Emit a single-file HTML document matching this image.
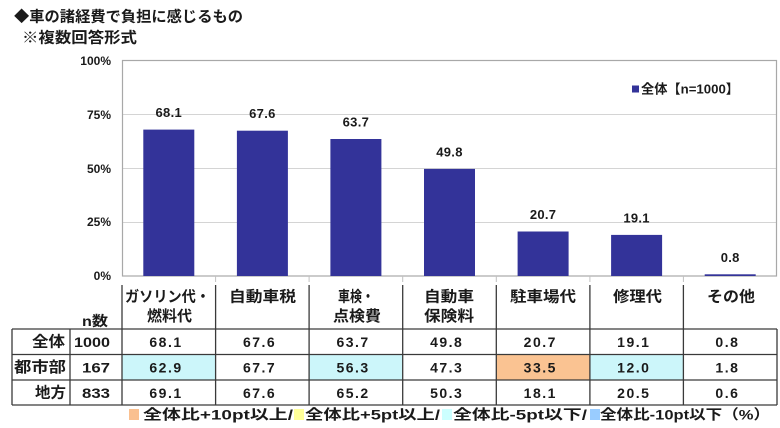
<!DOCTYPE html>
<html><head><meta charset="utf-8"><style>
html,body{margin:0;padding:0;background:#fff;}
svg{display:block;}
text{font-family:"Liberation Sans","Noto Sans CJK JP",sans-serif;font-weight:bold;fill:#1a1a1a;}
</style></head><body>
<svg width="780" height="428" viewBox="0 0 780 428" xmlns="http://www.w3.org/2000/svg">
<!-- Titles -->
<text x="14" y="17" font-size="15" dominant-baseline="central" textLength="229" lengthAdjust="spacingAndGlyphs">◆車の諸経費で負担に感じるもの</text>
<text x="22" y="38" font-size="15" dominant-baseline="central" textLength="115" lengthAdjust="spacingAndGlyphs">※複数回答形式</text>

<!-- gridlines -->
<g stroke="#d4d4d4" stroke-width="1">
<line x1="122" y1="114.5" x2="776" y2="114.5"/>
<line x1="122" y1="168.5" x2="776" y2="168.5"/>
<line x1="122" y1="222.5" x2="776" y2="222.5"/>
</g>
<!-- plot border -->
<rect x="122.5" y="60.5" width="654" height="215.5" fill="none" stroke="#a8a8a8" stroke-width="1.2"/>
<!-- ticks below axis -->
<g stroke="#c0c0c0" stroke-width="1">
<line x1="215.6" y1="276" x2="215.6" y2="282"/>
<line x1="309.1" y1="276" x2="309.1" y2="282"/>
<line x1="402.7" y1="276" x2="402.7" y2="282"/>
<line x1="496.3" y1="276" x2="496.3" y2="282"/>
<line x1="589.9" y1="276" x2="589.9" y2="282"/>
<line x1="683.4" y1="276" x2="683.4" y2="282"/>
</g>

<!-- y labels -->
<g font-size="12" text-anchor="end" dominant-baseline="central">
<text x="111" y="61">100%</text>
<text x="111" y="115">75%</text>
<text x="111" y="169">50%</text>
<text x="111" y="222">25%</text>
<text x="111" y="276">0%</text>
</g>

<!-- bars -->
<g fill="#333399">
<rect x="143.3" y="129.6" width="51" height="146.4"/>
<rect x="236.9" y="130.7" width="51" height="145.3"/>
<rect x="330.4" y="139.0" width="51" height="137.0"/>
<rect x="424.0" y="168.9" width="51" height="107.1"/>
<rect x="517.6" y="231.5" width="51" height="44.5"/>
<rect x="611.1" y="234.9" width="51" height="41.1"/>
<rect x="704.7" y="274.3" width="51" height="1.7"/>
</g>
<!-- bar labels -->
<g font-size="13" text-anchor="middle" dominant-baseline="central" letter-spacing="0.3">
<text x="168.8" y="112.6">68.1</text>
<text x="262.4" y="113.7">67.6</text>
<text x="355.9" y="122">63.7</text>
<text x="449.5" y="151.9">49.8</text>
<text x="543.1" y="214.5">20.7</text>
<text x="636.6" y="217.9">19.1</text>
<text x="730.2" y="257.3">0.8</text>
</g>

<!-- plot legend -->
<rect x="632" y="85.5" width="7" height="7" fill="#333399"/>
<text x="641" y="89" font-size="13" dominant-baseline="central" textLength="98" lengthAdjust="spacingAndGlyphs">全体【n=1000】</text>

<!-- table cell fills -->
<rect x="122" y="354.5" width="93.6" height="25.5" fill="#ccf6fa"/>
<rect x="309.1" y="354.5" width="93.6" height="25.5" fill="#ccf6fa"/>
<rect x="496.3" y="354.5" width="93.6" height="25.5" fill="#fac392"/>
<rect x="589.9" y="354.5" width="93.5" height="25.5" fill="#ccf6fa"/>

<!-- table lines -->
<g stroke="#3a3a3a" stroke-width="1.3">
<line x1="12" y1="329" x2="777" y2="329"/>
<line x1="12" y1="354.5" x2="777" y2="354.5"/>
<line x1="12" y1="380" x2="777" y2="380"/>
<line x1="12" y1="405" x2="777" y2="405"/>
<line x1="12" y1="329" x2="12" y2="405"/>
<line x1="70" y1="329" x2="70" y2="405"/>
<line x1="122" y1="285" x2="122" y2="405"/>
<line x1="215.6" y1="285" x2="215.6" y2="405"/>
<line x1="309.1" y1="285" x2="309.1" y2="405"/>
<line x1="402.7" y1="285" x2="402.7" y2="405"/>
<line x1="496.3" y1="285" x2="496.3" y2="405"/>
<line x1="589.9" y1="285" x2="589.9" y2="405"/>
<line x1="683.4" y1="285" x2="683.4" y2="405"/>
<line x1="777" y1="329" x2="777" y2="405"/>
</g>

<!-- header text -->
<g font-size="15" dominant-baseline="central">
<text x="125" y="297" textLength="85" lengthAdjust="spacingAndGlyphs">ガソリン代・</text>
<text x="147" y="316.5" textLength="45" lengthAdjust="spacingAndGlyphs">燃料代</text>
<text x="229" y="297" textLength="67" lengthAdjust="spacingAndGlyphs">自動車税</text>
<text x="338" y="297" textLength="36" lengthAdjust="spacingAndGlyphs">車検・</text>
<text x="333" y="316.5" textLength="48" lengthAdjust="spacingAndGlyphs">点検費</text>
<text x="424" y="297" textLength="50" lengthAdjust="spacingAndGlyphs">自動車</text>
<text x="424" y="316.5" textLength="50" lengthAdjust="spacingAndGlyphs">保険料</text>
<text x="510" y="297" textLength="66" lengthAdjust="spacingAndGlyphs">駐車場代</text>
<text x="613" y="297" textLength="49" lengthAdjust="spacingAndGlyphs">修理代</text>
<text x="707" y="297" textLength="48" lengthAdjust="spacingAndGlyphs">その他</text>
<text x="82" y="321" textLength="26" lengthAdjust="spacingAndGlyphs" font-size="14">n数</text>
</g>

<!-- row labels -->
<g font-size="15" dominant-baseline="central">
<text x="32" y="342" textLength="33" lengthAdjust="spacingAndGlyphs">全体</text>
<text x="14" y="367.5" textLength="52" lengthAdjust="spacingAndGlyphs">都市部</text>
<text x="35" y="393" textLength="31" lengthAdjust="spacingAndGlyphs">地方</text>
</g>
<!-- n values -->
<g font-size="14" dominant-baseline="central">
<text x="74" y="342" textLength="36" lengthAdjust="spacingAndGlyphs">1000</text>
<text x="82" y="367.5" textLength="28" lengthAdjust="spacingAndGlyphs">167</text>
<text x="82" y="393" textLength="28" lengthAdjust="spacingAndGlyphs">833</text>
</g>

<!-- table values -->
<g font-size="14" text-anchor="middle" dominant-baseline="central" letter-spacing="1.5">
<text x="166" y="342">68.1</text><text x="259.6" y="342">67.6</text><text x="353.1" y="342">63.7</text><text x="446.7" y="342">49.8</text><text x="540.3" y="342">20.7</text><text x="633.8" y="342">19.1</text><text x="727.4" y="342">0.8</text>
<text x="166" y="367.5">62.9</text><text x="259.6" y="367.5">67.7</text><text x="353.1" y="367.5">56.3</text><text x="446.7" y="367.5">47.3</text><text x="540.3" y="367.5">33.5</text><text x="633.8" y="367.5">12.0</text><text x="727.4" y="367.5">1.8</text>
<text x="166" y="393">69.1</text><text x="259.6" y="393">67.6</text><text x="353.1" y="393">65.2</text><text x="446.7" y="393">50.3</text><text x="540.3" y="393">18.1</text><text x="633.8" y="393">20.5</text><text x="727.4" y="393">0.6</text>
</g>

<!-- bottom legend -->
<rect x="129" y="409" width="10" height="11" fill="#fac090"/>
<rect x="294" y="409" width="10" height="11" fill="#ffff99"/>
<rect x="442" y="409" width="10" height="11" fill="#ccffff"/>
<rect x="590" y="409" width="10" height="11" fill="#99ccff"/>
<g font-size="14" dominant-baseline="central">
<text x="143" y="414.5" textLength="150" lengthAdjust="spacingAndGlyphs">全体比+10pt以上/</text>
<text x="305" y="414.5" textLength="135" lengthAdjust="spacingAndGlyphs">全体比+5pt以上/</text>
<text x="453" y="414.5" textLength="134" lengthAdjust="spacingAndGlyphs">全体比-5pt以下/</text>
<text x="600" y="414.5" textLength="170" lengthAdjust="spacingAndGlyphs">全体比-10pt以下（%）</text>
</g>
</svg>
</body></html>
